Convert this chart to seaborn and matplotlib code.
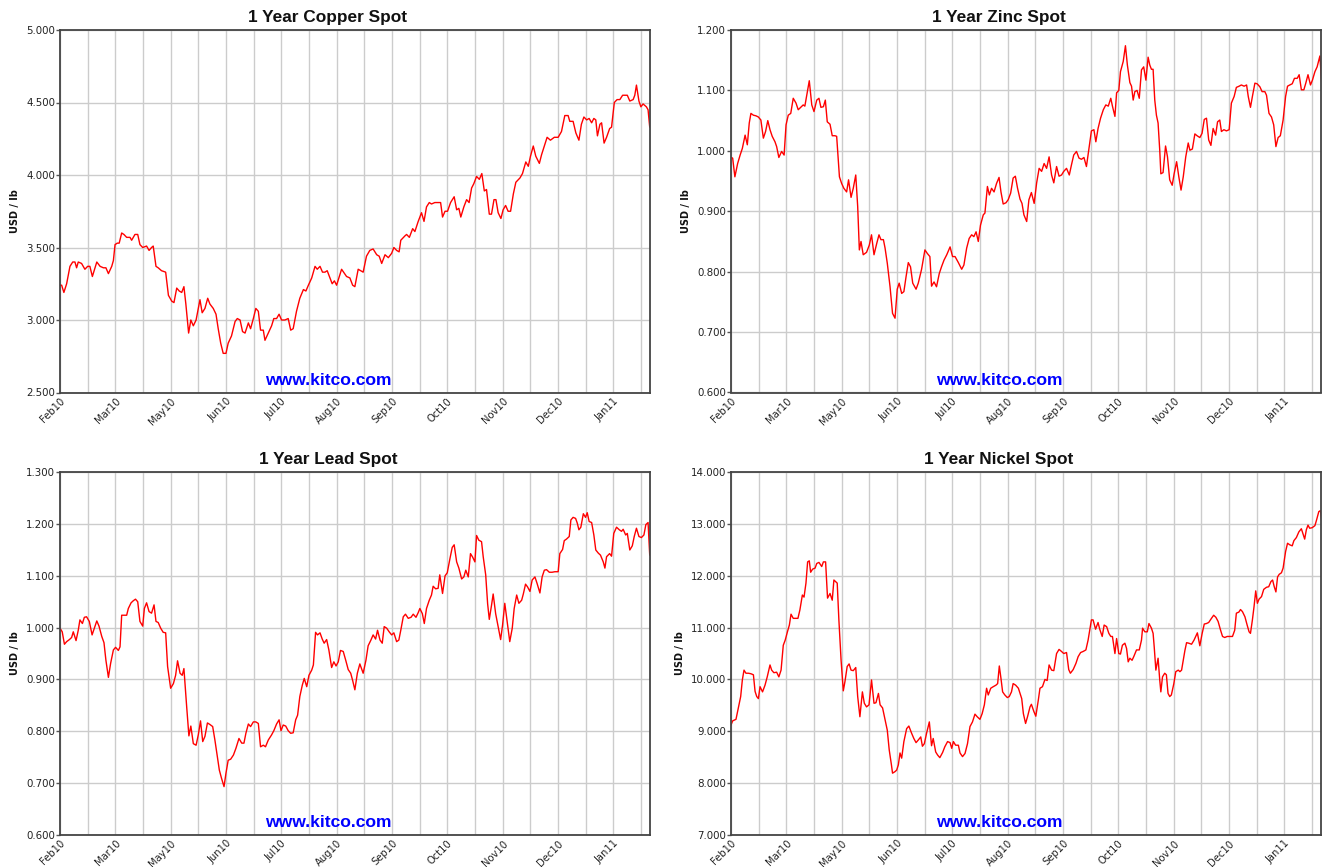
import numpy as np
import pandas as pd
import matplotlib
matplotlib.use("Agg")
import matplotlib.pyplot as plt
from matplotlib.ticker import MultipleLocator, FormatStrFormatter, FixedLocator
import seaborn as sns

sns.set_style("white")
plt.rcParams['font.family'] = ['DejaVu Sans']

# ---------------- data (x in month-grid units, y in USD/lb) ----------------
month_labels = ["Feb10", "Mar10", "May10", "Jun10", "Jul10", "Aug10",
                "Sep10", "Oct10", "Nov10", "Dec10", "Jan11"]

copper_x = [0.00,0.06,0.14,0.24,0.36,0.46,0.54,0.60,0.66,0.78,0.90,1.00,1.08,1.17,1.33,1.45,1.57,1.66,1.75,1.87,
            1.93,1.99,2.07,2.14,2.23,2.31,2.41,2.53,2.59,2.71,2.81,2.89,2.99,3.13,3.22,3.31,3.37,3.47,3.55,3.67,
            3.82,3.92,4.04,4.12,4.22,4.31,4.40,4.48,4.55,4.65,4.73,4.82,4.92,5.06,5.14,5.24,5.34,5.42,5.54,5.64,
            5.72,5.81,5.90,6.00,6.08,6.20,6.33,6.41,6.51,6.60,6.69,6.81,6.89,6.99,7.08,7.17,7.25,7.35,7.41,7.53,
            7.65,7.73,7.83,7.92,8.01,8.13,8.25,8.34,8.43,8.55,8.67,8.80,8.89,8.98,9.10,9.22,9.30,9.40,9.49,9.58,
            9.66,9.76,9.84,9.92,10.00,10.10,10.18,
            10.36,10.48,10.58,10.66,10.78,10.96,11.08,11.20,11.32,11.45,11.54,11.63,11.75,11.87,11.99,12.07,12.17,12.26,12.32,12.47,
            12.53,12.63,12.75,12.83,12.95,13.07,13.16,13.25,13.35,13.43,13.55,13.67,13.76,13.83,13.92,14.01,14.12,14.25,14.34,14.42,
            14.49,14.60,14.70,14.79,14.88,14.96,15.06,15.16,15.25,15.34,15.42,15.52,15.60,15.69,15.76,15.84,15.94,16.02,16.11,16.20,
            16.29,16.39,16.48,16.63,16.72,16.84,16.93,17.01,17.11,17.20,17.33,17.41,17.51,17.61,17.73,17.87,18.01,18.13,18.25,18.37,
            18.43,18.55,18.65,18.76,18.85,18.94,19.04,19.13,19.22,19.30,19.37,19.43,19.52,19.58,19.67,19.76,19.87,19.94,20.04,20.14,
            20.24,20.34,20.42,20.51,20.60,20.72,20.78,20.84,20.93,21.00,21.08,21.20,21.26,21.32]
copper_y = [3.24,3.24,3.19,3.25,3.37,3.40,3.40,3.36,3.40,3.39,3.35,3.37,3.37,3.30,3.40,3.37,3.36,3.36,3.32,3.37,
            3.41,3.52,3.53,3.53,3.60,3.59,3.57,3.57,3.55,3.59,3.59,3.52,3.50,3.51,3.48,3.50,3.51,3.37,3.36,3.34,
            3.33,3.17,3.13,3.12,3.22,3.20,3.19,3.23,3.11,2.91,3.00,2.96,3.00,3.14,3.05,3.08,3.15,3.11,3.08,3.04,
            2.94,2.84,2.77,2.77,2.84,2.89,2.99,3.01,3.00,2.92,2.91,2.98,2.94,3.01,3.08,3.06,2.93,2.93,2.86,2.91,
            2.96,3.01,3.01,3.04,3.00,3.00,3.01,2.93,2.94,3.06,3.15,3.21,3.20,3.24,3.29,3.37,3.35,3.37,3.33,3.33,
            3.34,3.29,3.25,3.27,3.24,3.30,3.35,
            3.30,3.29,3.24,3.23,3.35,3.33,3.44,3.48,3.49,3.45,3.44,3.39,3.45,3.43,3.46,3.50,3.48,3.47,3.55,3.58,
            3.59,3.57,3.63,3.61,3.68,3.74,3.68,3.78,3.81,3.80,3.81,3.81,3.81,3.71,3.75,3.75,3.81,3.85,3.76,3.77,
            3.71,3.78,3.83,3.81,3.91,3.94,3.99,3.97,4.01,3.89,3.90,3.73,3.73,3.83,3.83,3.74,3.70,3.76,3.79,3.75,
            3.75,3.87,3.95,3.98,4.01,4.09,4.06,4.13,4.20,4.13,4.08,4.14,4.20,4.26,4.24,4.26,4.26,4.30,4.41,4.41,
            4.37,4.37,4.29,4.24,4.35,4.40,4.38,4.39,4.36,4.39,4.38,4.27,4.35,4.36,4.22,4.26,4.32,4.33,4.50,4.52,
            4.52,4.55,4.55,4.55,4.51,4.52,4.55,4.62,4.51,4.47,4.49,4.47,4.45,4.33]

zinc_x = [0.00,0.06,0.14,0.24,0.33,0.41,0.51,0.59,0.66,0.72,0.81,0.90,0.99,1.08,1.17,1.25,1.33,1.41,1.49,1.59,
          1.65,1.73,1.83,1.92,1.99,2.07,2.16,2.25,2.35,2.43,2.52,2.61,2.67,2.73,2.83,2.92,3.00,3.10,3.18,3.25,
          3.34,3.41,3.48,3.58,3.66,3.76,3.82,3.92,4.00,4.08,4.18,4.25,4.34,4.42,4.51,4.58,4.64,4.70,4.78,4.90,
          5.00,5.08,5.17,5.27,5.35,5.42,5.51,5.57,5.65,5.75,5.84,5.93,6.01,6.08,6.17,6.25,6.33,6.41,6.49,6.57,
          6.69,6.77,6.89,7.01,7.10,7.19,7.25,7.34,7.43,7.53,7.61,7.70,7.80,7.92,8.01,8.10,8.22,8.34,8.42,8.52,
          8.61,8.70,8.78,8.86,8.94,9.02,9.12,9.18,9.27,9.34,9.42,9.51,9.60,9.69,9.76,9.84,9.94,10.02,10.11,10.20,
          10.28,10.36,10.45,10.52,10.59,10.69,10.77,
          10.86,10.96,11.05,11.14,11.23,11.32,11.41,11.50,11.59,11.67,11.77,11.86,11.95,12.03,12.13,12.23,12.31,12.39,12.49,12.58,
          12.67,12.76,12.85,12.95,13.03,13.12,13.19,13.27,13.36,13.46,13.55,13.64,13.73,13.79,13.88,13.94,14.02,14.08,14.18,14.26,
          14.33,14.42,14.48,14.54,14.60,14.68,14.76,14.84,14.92,15.00,15.08,15.14,15.20,15.26,15.32,15.38,15.44,15.50,15.54,15.62,
          15.71,15.78,15.86,15.95,16.02,16.11,16.19,16.27,16.35,16.44,16.53,16.59,16.68,16.77,16.85,16.95,17.03,17.11,17.19,17.27,
          17.35,17.43,17.52,17.59,17.67,17.73,17.82,17.91,18.01,18.09,18.19,18.27,18.37,18.45,18.55,18.64,18.70,18.78,18.85,18.94,
          19.02,19.12,19.20,19.30,19.36,19.45,19.54,19.62,19.70,19.78,19.86,19.96,20.05,20.12,20.20,20.29,20.37,20.47,20.54,20.62,
          20.71,20.78,20.86,20.95,21.02,21.11,21.19,21.29,21.36]
zinc_y = [0.989,0.988,0.957,0.979,0.993,1.004,1.026,1.010,1.046,1.062,1.059,1.058,1.056,1.051,1.021,1.032,1.050,1.035,1.024,1.015,
          1.007,0.989,0.999,0.993,1.043,1.059,1.062,1.087,1.079,1.068,1.072,1.076,1.074,1.090,1.116,1.076,1.065,1.084,1.087,1.072,
          1.073,1.084,1.048,1.044,1.025,1.025,1.024,0.957,0.946,0.938,0.932,0.952,0.923,0.938,0.960,0.908,0.836,0.850,0.828,0.832,
          0.844,0.861,0.828,0.847,0.861,0.853,0.853,0.839,0.814,0.775,0.731,0.723,0.771,0.781,0.764,0.767,0.792,0.815,0.808,0.781,
          0.771,0.781,0.804,0.836,0.830,0.825,0.776,0.783,0.775,0.797,0.808,0.819,0.828,0.841,0.825,0.825,0.815,0.804,0.811,0.839,
          0.855,0.861,0.858,0.866,0.850,0.877,0.894,0.897,0.941,0.927,0.938,0.932,0.946,0.956,0.932,0.912,0.914,0.919,0.930,0.955,
          0.958,0.938,0.920,0.913,0.894,0.883,0.919,
          0.931,0.913,0.947,0.971,0.966,0.979,0.971,0.990,0.960,0.947,0.974,0.958,0.960,0.966,0.971,0.960,0.977,0.993,0.999,0.988,
          0.986,0.989,0.974,1.007,1.033,1.035,1.015,1.037,1.054,1.068,1.076,1.074,1.087,1.074,1.057,1.096,1.100,1.131,1.148,1.174,
          1.142,1.113,1.107,1.084,1.098,1.100,1.087,1.134,1.139,1.117,1.155,1.142,1.135,1.135,1.084,1.059,1.046,1.001,0.962,0.964,
          1.008,0.990,0.952,0.943,0.962,0.982,0.957,0.935,0.957,0.990,1.013,1.001,1.003,1.028,1.025,1.022,1.029,1.052,1.054,1.018,
          1.009,1.037,1.026,1.048,1.051,1.032,1.035,1.033,1.035,1.079,1.090,1.105,1.107,1.109,1.107,1.109,1.090,1.072,1.090,1.112,
          1.111,1.106,1.098,1.098,1.092,1.062,1.056,1.043,1.007,1.022,1.025,1.051,1.090,1.107,1.109,1.111,1.120,1.120,1.126,1.101,
          1.101,1.112,1.126,1.109,1.117,1.131,1.139,1.157,1.109]

lead_x = [0.00,0.08,0.16,0.24,0.34,0.42,0.48,0.58,0.66,0.72,0.81,0.88,0.96,1.06,1.16,1.24,1.33,1.41,1.51,1.59,
          1.66,1.75,1.83,1.93,2.01,2.11,2.17,2.23,2.31,2.41,2.47,2.57,2.65,2.73,2.81,2.89,2.99,3.05,3.13,3.22,
          3.31,3.40,3.47,3.55,3.64,3.73,3.82,3.89,4.00,4.10,4.18,4.25,4.34,4.42,4.48,4.58,4.66,4.73,4.82,4.92,
          5.00,5.08,5.16,5.24,5.33,5.42,5.52,5.60,5.69,5.76,5.84,5.93,6.00,6.08,6.17,6.27,6.36,6.47,6.57,6.65,
          6.72,6.81,6.89,6.99,7.08,7.17,7.25,7.35,7.43,7.53,7.65,7.73,7.83,7.92,7.99,8.07,8.16,8.25,8.34,8.43,
          8.52,8.59,8.67,8.76,8.83,8.92,9.00,9.10,9.16,9.24,9.31,9.40,9.48,9.55,9.64,9.72,9.82,9.90,9.98,10.06,
          10.14,10.24,10.33,10.42,10.51,10.58,10.66,10.75,
          10.84,10.96,11.06,11.14,11.24,11.32,11.41,11.48,11.57,11.65,11.72,11.81,11.90,11.99,12.07,12.17,12.25,12.32,12.41,12.49,
          12.59,12.69,12.77,12.87,12.95,13.01,13.10,13.17,13.25,13.35,13.43,13.49,13.58,13.67,13.73,13.83,13.92,14.00,14.10,14.18,
          14.25,14.34,14.42,14.52,14.60,14.67,14.76,14.84,14.92,15.00,15.06,15.14,15.24,15.30,15.39,15.46,15.52,15.60,15.66,15.75,
          15.84,15.93,16.00,16.08,16.18,16.26,16.35,16.42,16.51,16.59,16.69,16.75,16.83,16.90,16.99,17.07,17.17,17.25,17.35,17.43,
          17.51,17.59,17.69,17.79,17.89,18.01,18.07,18.17,18.23,18.31,18.41,18.47,18.55,18.64,18.70,18.76,18.83,18.92,19.00,19.06,
          19.13,19.22,19.30,19.37,19.46,19.54,19.64,19.70,19.76,19.87,19.94,20.02,20.12,20.22,20.30,20.36,20.45,20.51,20.60,20.69,
          20.76,20.84,20.93,21.02,21.11,21.18,21.26,21.32]
lead_y = [0.999,0.992,0.968,0.973,0.977,0.981,0.992,0.975,0.995,1.015,1.008,1.020,1.021,1.012,0.986,0.999,1.013,1.003,0.983,0.971,
          0.937,0.904,0.931,0.957,0.962,0.956,0.963,1.024,1.024,1.024,1.037,1.048,1.052,1.055,1.050,1.012,1.003,1.037,1.048,1.031,
          1.028,1.044,1.012,1.010,0.999,0.991,0.990,0.925,0.883,0.892,0.908,0.936,0.912,0.908,0.921,0.847,0.791,0.810,0.776,0.773,
          0.793,0.820,0.780,0.790,0.816,0.813,0.809,0.783,0.751,0.725,0.709,0.693,0.719,0.744,0.746,0.754,0.767,0.786,0.777,0.777,
          0.796,0.814,0.809,0.818,0.818,0.815,0.770,0.773,0.770,0.783,0.793,0.801,0.814,0.822,0.801,0.812,0.810,0.801,0.796,0.797,
          0.822,0.831,0.867,0.889,0.902,0.886,0.908,0.918,0.928,0.991,0.986,0.990,0.978,0.970,0.977,0.957,0.923,0.934,0.926,0.934,
          0.956,0.954,0.937,0.919,0.912,0.898,0.880,0.912,
          0.930,0.912,0.937,0.965,0.976,0.986,0.978,0.995,0.976,0.970,1.002,0.999,0.992,0.986,0.990,0.973,0.976,0.995,1.021,1.026,
          1.018,1.020,1.026,1.020,1.029,1.037,1.027,1.008,1.037,1.053,1.063,1.080,1.075,1.076,1.102,1.066,1.100,1.106,1.134,1.155,
          1.160,1.127,1.115,1.094,1.098,1.111,1.098,1.143,1.136,1.127,1.178,1.169,1.166,1.137,1.102,1.046,1.016,1.043,1.065,1.027,
          1.002,0.977,1.005,1.047,1.005,0.973,0.999,1.037,1.063,1.047,1.053,1.065,1.084,1.079,1.070,1.092,1.098,1.085,1.067,1.098,
          1.111,1.112,1.107,1.107,1.108,1.108,1.143,1.151,1.168,1.171,1.176,1.208,1.213,1.211,1.202,1.189,1.194,1.220,1.213,1.222,
          1.205,1.203,1.179,1.150,1.144,1.140,1.127,1.115,1.137,1.143,1.138,1.182,1.194,1.189,1.186,1.190,1.179,1.182,1.150,1.158,
          1.176,1.192,1.176,1.174,1.179,1.199,1.203,1.140]

nickel_x = [0.00,0.06,0.18,0.24,0.30,0.35,0.41,0.47,0.54,0.63,0.72,0.81,0.87,0.93,0.99,1.05,1.14,1.23,1.31,1.41,
            1.47,1.55,1.65,1.73,1.81,1.89,1.96,2.04,2.11,2.17,2.25,2.34,2.42,2.49,2.58,2.64,2.71,2.77,2.83,2.88,
            2.95,3.04,3.10,3.18,3.28,3.34,3.42,3.49,3.58,3.66,3.72,3.78,3.84,3.90,3.98,4.06,4.12,4.20,4.27,4.34,
            4.42,4.51,4.58,4.66,4.75,4.82,4.90,4.99,5.08,5.17,5.24,5.33,5.39,5.48,5.57,5.65,5.72,5.80,5.84,5.93,
            5.99,6.05,6.11,6.17,6.25,6.35,6.43,6.53,6.61,6.69,6.77,6.86,6.92,6.99,7.07,7.17,7.25,7.31,7.40,7.47,
            7.55,7.65,7.73,7.83,7.92,7.98,8.04,8.12,8.22,8.28,8.37,8.46,8.55,8.64,8.73,8.82,8.90,9.00,9.08,9.16,
            9.24,9.30,9.39,9.48,9.58,9.64,9.70,9.76,9.82,9.90,9.99,10.06,10.14,10.20,10.29,10.39,10.45,10.51,10.57,10.65,
            10.72,10.81,
            10.86,10.95,11.02,11.11,11.17,11.26,11.35,11.43,11.50,11.59,11.67,11.77,11.86,11.95,12.03,12.13,12.21,12.27,12.37,12.47,
            12.55,12.64,12.73,12.83,12.91,12.97,13.03,13.09,13.18,13.27,13.33,13.42,13.49,13.58,13.66,13.73,13.79,13.88,13.94,14.02,
            14.08,14.15,14.24,14.30,14.36,14.42,14.50,14.56,14.66,14.76,14.84,14.88,14.96,15.05,15.11,15.20,15.26,15.30,15.36,15.44,
            15.50,15.54,15.60,15.68,15.74,15.80,15.86,15.92,16.01,16.08,16.17,16.23,16.29,16.35,16.41,16.47,16.55,16.65,16.74,16.80,
            16.86,16.95,17.03,17.11,17.19,17.27,17.37,17.45,17.53,17.61,17.70,17.77,17.85,17.94,18.03,18.13,18.21,18.27,18.36,18.42,
            18.49,18.58,18.66,18.73,18.78,18.85,18.91,18.97,19.03,19.09,19.18,19.26,19.36,19.44,19.52,19.58,19.64,19.70,19.76,19.82,
            19.90,19.96,20.05,20.12,20.20,20.29,20.35,20.44,20.53,20.62,20.68,20.74,20.80,20.86,20.92,21.01,21.11,21.17,21.25,21.31,
            21.38]
nickel_y = [9.12,9.20,9.23,9.38,9.54,9.67,9.99,10.18,10.12,10.12,10.11,10.09,9.77,9.67,9.63,9.86,9.76,9.89,10.05,10.28,
            10.18,10.13,10.14,10.05,10.18,10.66,10.76,10.92,11.05,11.26,11.18,11.18,11.18,11.34,11.63,11.59,11.86,12.27,12.29,12.07,
            12.13,12.15,12.24,12.26,12.18,12.27,12.27,11.57,11.66,11.53,11.92,11.89,11.86,11.15,10.37,9.78,9.96,10.25,10.30,10.18,
            10.17,10.23,9.67,9.28,9.76,9.54,9.47,9.51,9.99,9.54,9.55,9.73,9.51,9.45,9.22,9.02,8.64,8.35,8.19,8.22,
            8.25,8.35,8.58,8.48,8.80,9.05,9.10,8.96,8.86,8.78,8.83,8.89,8.71,8.76,8.96,9.18,8.72,8.86,8.60,8.54,
            8.49,8.59,8.70,8.80,8.78,8.67,8.80,8.73,8.73,8.58,8.51,8.57,8.76,9.09,9.18,9.33,9.28,9.23,9.34,9.51,
            9.83,9.70,9.83,9.86,9.89,9.92,10.26,10.02,9.76,9.70,9.65,9.67,9.76,9.92,9.89,9.83,9.73,9.63,9.34,9.15,
            9.28,9.47,
            9.52,9.38,9.29,9.60,9.83,9.86,10.00,9.98,10.28,10.18,10.17,10.50,10.58,10.54,10.50,10.52,10.19,10.12,10.19,10.31,
            10.44,10.52,10.54,10.57,10.76,10.95,11.15,11.15,10.97,11.10,10.97,10.83,11.05,11.02,10.89,10.83,10.83,10.50,10.79,10.50,
            10.49,10.66,10.70,10.60,10.34,10.41,10.37,10.44,10.57,10.57,10.76,10.99,10.92,10.92,11.08,10.99,10.89,10.63,10.18,10.41,
            9.99,9.76,10.05,10.12,10.09,9.73,9.67,9.70,9.92,10.15,10.18,10.15,10.18,10.37,10.56,10.71,10.70,10.68,10.76,10.83,
            10.90,10.65,10.88,11.07,11.08,11.10,11.18,11.24,11.20,11.12,10.95,10.83,10.81,10.83,10.83,10.83,10.95,11.28,11.30,11.35,
            11.31,11.21,11.05,10.92,10.89,11.15,11.41,11.71,11.47,11.55,11.60,11.74,11.78,11.79,11.89,11.92,11.79,11.69,11.98,12.03,
            12.06,12.15,12.47,12.63,12.60,12.58,12.68,12.74,12.85,12.91,12.81,12.71,12.89,12.98,12.92,12.93,12.97,13.08,13.24,13.26,
            12.95]

titles = ["1 Year Copper Spot", "1 Year Zinc Spot", "1 Year Lead Spot", "1 Year Nickel Spot"]
y_ranges = [(2.5, 5.0, 0.5), (0.6, 1.2, 0.1), (0.6, 1.3, 0.1), (7.0, 14.0, 1.0)]
series = [(copper_x, copper_y), (zinc_x, zinc_y), (lead_x, lead_y), (nickel_x, nickel_y)]

# ---------------- layout ----------------
W, H = 1324, 867
fig = plt.figure(figsize=(W / 100, H / 100), dpi=100)
boxes = [(60, 30, 590, 362.5), (731, 30, 590, 362.5),
         (60, 472.3, 590, 362.5), (731, 472.3, 590, 362.5)]
ylabel_off = [40, 40, 40, 46]

for i, ((bx, by, bw, bh), (xs, ys), title, (ymin, ymax, ystep)) in enumerate(
        zip(boxes, series, titles, y_ranges)):
    ax = fig.add_axes([bx / W, 1 - (by + bh) / H, bw / W, bh / H])
    df = pd.DataFrame({"t": xs, "v": ys})
    sns.lineplot(data=df, x="t", y="v", ax=ax, color="#ff0000", linewidth=1.0,
                 estimator=None, sort=False)
    ax.set_xlim(0, 21.33)
    ax.set_ylim(ymin, ymax)
    ax.yaxis.set_major_locator(MultipleLocator(ystep))
    ax.yaxis.set_major_formatter(FormatStrFormatter('%.3f'))
    ax.xaxis.set_major_locator(FixedLocator(np.arange(0, 21, 2)))
    ax.xaxis.set_minor_locator(FixedLocator(np.arange(1, 22, 2)))
    ax.set_xticklabels(month_labels, rotation=45, ha='right', rotation_mode='anchor')
    ax.grid(True, which='both', color='#cccccc', linewidth=1.0)
    ax.set_axisbelow(True)
    ax.tick_params(axis='y', which='major', labelsize=7.4, length=3, width=1,
                   color='#555555', labelcolor='#222222', pad=0.5, direction='out', left=True)
    ax.tick_params(axis='x', which='major', labelsize=7.2, length=0,
                   labelcolor='#222222', pad=2.5, bottom=True)
    ax.tick_params(axis='x', which='minor', length=0)
    for s in ax.spines.values():
        s.set_color('#444444')
        s.set_linewidth(1.3)
    ax.set_xlabel("")
    ax.set_ylabel("USD / lb", fontsize=7, fontweight='bold', color='#111111')
    ax.yaxis.set_label_coords(-ylabel_off[i] / bw, 0.5)
    ax.set_title(title, fontsize=12.4, fontweight='bold', color='#111111', pad=6,
                 x=0.454, family='Liberation Sans')
    ax.text(0.455, 0.034, "www.kitco.com", transform=ax.transAxes, ha='center',
            va='center', color='#0000ff', fontsize=12.6, fontweight='bold',
            family='Liberation Sans')

fig.savefig("out.png", dpi=100, facecolor='white')
